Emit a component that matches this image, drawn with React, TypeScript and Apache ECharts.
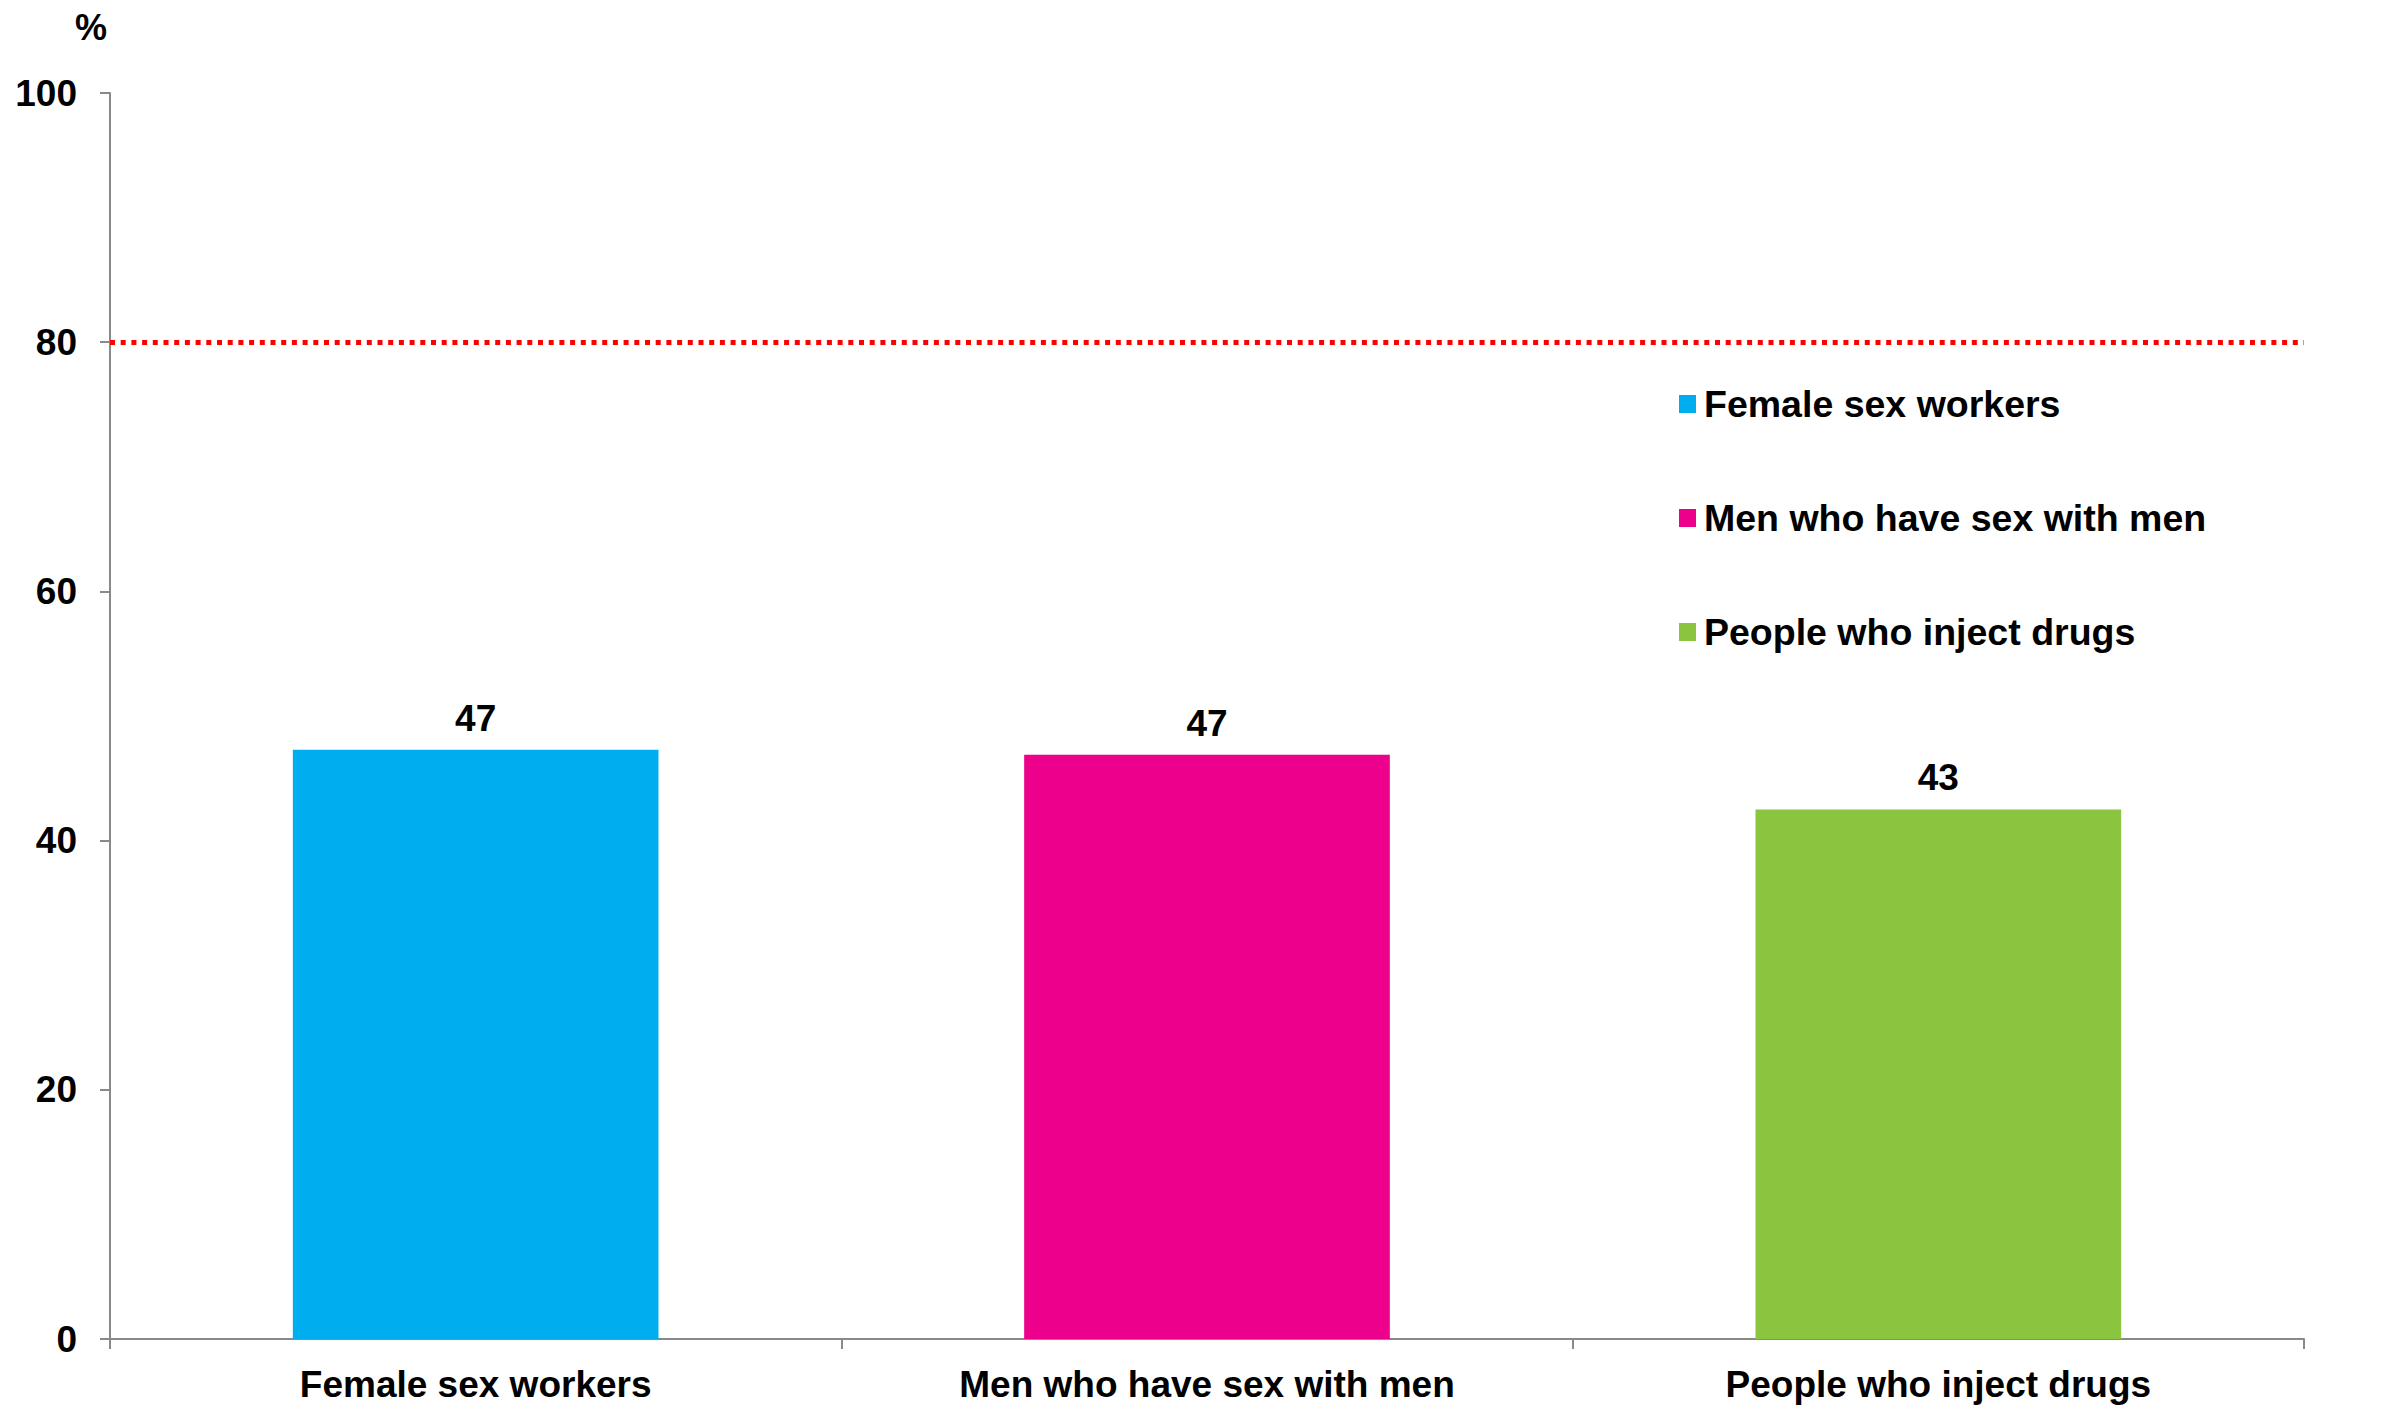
import React, { useEffect, useRef } from "react";
import * as echarts from "echarts";

const categories = ["Female sex workers", "Men who have sex with men", "People who inject drugs"];
const values = [47.3, 46.9, 42.5];
const colors = ["#00AEEF", "#EC008C", "#8BC540"];
const yTicks = { min: 0, max: 100, interval: 20 };
const targetValue = 80;
const unitLabel = "%";

const FONT = "'Liberation Sans', Arial, sans-serif";

export default function App() {
  const ref = useRef<HTMLDivElement>(null);
  useEffect(() => {
    document.body.style.margin = "0";
    const chart = echarts.init(ref.current!, null, { renderer: "svg" });
    const series: any[] = categories.map((name, i) => ({
      name,
      type: "bar",
      stack: "all",
      barWidth: "50%",
      itemStyle: { color: colors[i] },
      data: categories.map((_, j) => (j === i ? values[i] : "-")),
      label: {
        show: true,
        position: "top",
        distance: 13,
        fontFamily: FONT,
        fontWeight: "bold",
        fontSize: 37,
        color: "#000",
        formatter: (p: any) => String(Math.round(p.value)),
      },
      markLine:
        i === 0
          ? {
              silent: true,
              symbol: "none",
              label: { show: false },
              lineStyle: { color: "#FF0000", width: 5, type: [5, 5.7] },
              data: [{ yAxis: targetValue }],
            }
          : undefined,
    }));
    chart.setOption({
      animation: false,
      backgroundColor: "#fff",
      grid: { left: 110, right: 88, top: 93, bottom: 68, containLabel: false },
      legend: {
        orient: "vertical",
        left: 1674,
        top: 380,
        itemWidth: 17,
        itemHeight: 18,
        itemGap: 76,
        icon: "rect",
        textStyle: {
          fontFamily: FONT,
          fontWeight: "bold",
          fontSize: 37.5,
          color: "#000",
          padding: [0, 0, 0, 3],
        },
        data: categories,
      },
      xAxis: {
        type: "category",
        data: categories,
        axisLine: { lineStyle: { color: "#898989", width: 2 } },
        axisTick: { show: true, length: 10, lineStyle: { color: "#898989", width: 2 } },
        axisLabel: {
          margin: 27,
          fontFamily: FONT,
          fontWeight: "bold",
          fontSize: 37,
          color: "#000",
        },
      },
      yAxis: {
        type: "value",
        min: yTicks.min,
        max: yTicks.max,
        interval: yTicks.interval,
        splitLine: { show: false },
        axisLine: { show: true, lineStyle: { color: "#898989", width: 2 } },
        axisTick: { show: true, length: 10, lineStyle: { color: "#898989", width: 2 } },
        axisLabel: {
          margin: 33,
          fontFamily: FONT,
          fontWeight: "bold",
          fontSize: 37,
          color: "#000",
        },
      },
      graphic: [
        {
          type: "text",
          x: 91,
          y: 27,
          style: {
            text: unitLabel,
            fontFamily: FONT,
            fontWeight: "bold",
            fontSize: 36,
            fill: "#000",
            align: "center",
            verticalAlign: "middle",
          },
        },
      ],
      series,
    });
    return () => chart.dispose();
  }, []);
  return (
    <div
      ref={ref}
      style={{ position: "absolute", left: 0, top: 0, width: 2392, height: 1407 }}
    />
  );
}
